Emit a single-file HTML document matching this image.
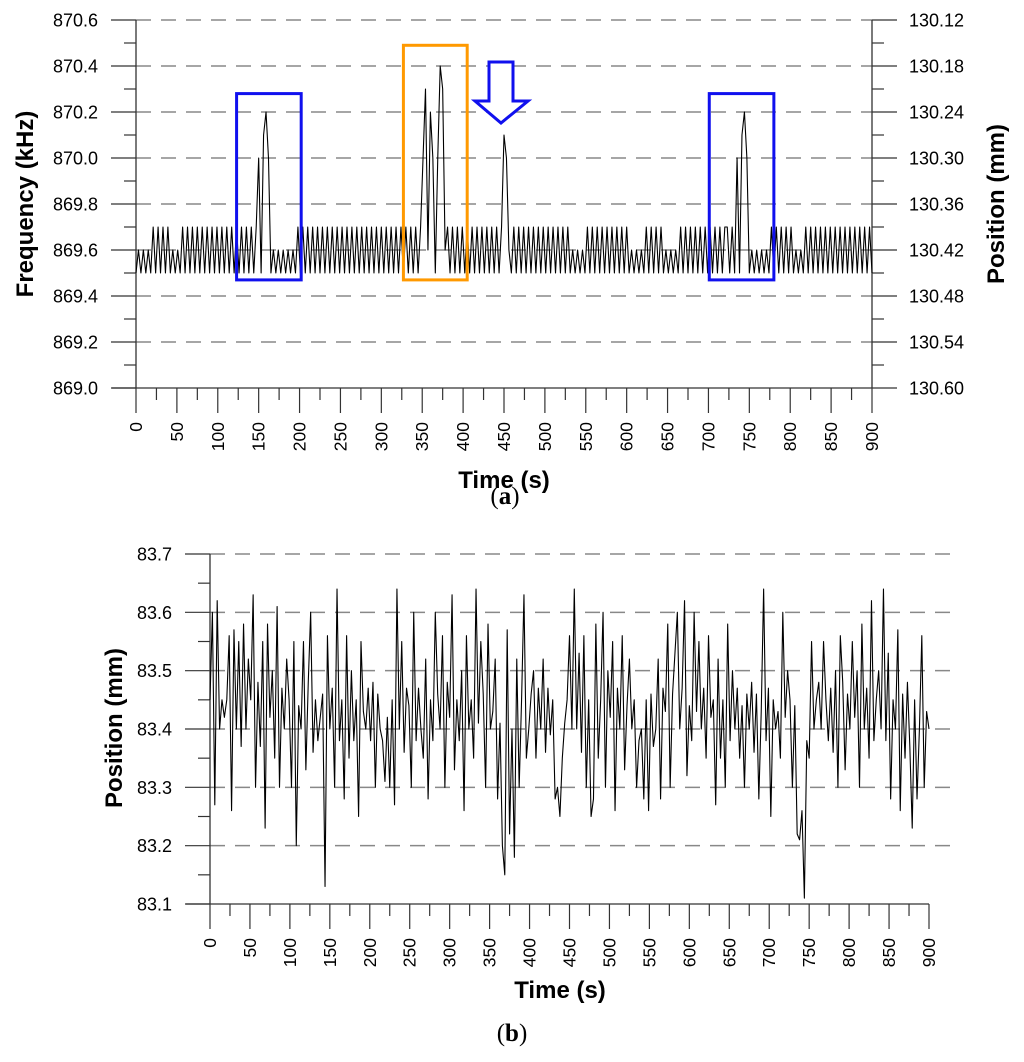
<!DOCTYPE html>
<html><head><meta charset="utf-8"><style>
body{margin:0;background:#fff;width:1024px;height:1062px;overflow:hidden}
svg{display:block}
text{font-family:"Liberation Sans",Arial,sans-serif;fill:#000}
</style></head><body>
<svg id="svg" width="1024" height="1062" xmlns="http://www.w3.org/2000/svg">
<g id="ca"></g>
<g id="cb"></g>
<text x="505" y="504" text-anchor="middle" style="font-family:'Liberation Serif',serif;font-size:25px">(<tspan font-weight="bold">a</tspan>)</text>
<text x="512" y="1041" text-anchor="middle" style="font-family:'Liberation Serif',serif;font-size:25px">(<tspan font-weight="bold">b</tspan>)</text>
</svg>
<script>
const timeStep = 3;
const freqValues = [
869.5,869.6,869.5,869.6,869.5,869.6,869.5,869.7,869.5,869.7,869.5,869.7,869.5,869.7,869.5,869.6,869.5,869.6,869.5,869.7,
869.5,869.7,869.5,869.7,869.5,869.7,869.5,869.7,869.5,869.7,869.5,869.7,869.5,869.7,869.5,869.7,869.5,869.7,869.5,869.7,
869.5,869.7,869.5,869.7,869.5,869.7,869.5,869.7,869.5,869.7,870.0,869.5,870.1,870.2,870.0,869.5,869.6,869.5,869.6,869.5,
869.6,869.5,869.6,869.5,869.6,869.5,869.7,869.5,869.7,869.5,869.7,869.5,869.7,869.5,869.7,869.5,869.7,869.5,869.7,869.5,
869.7,869.5,869.7,869.5,869.7,869.5,869.7,869.5,869.7,869.5,869.7,869.5,869.7,869.5,869.7,869.5,869.7,869.5,869.7,869.5,
869.7,869.5,869.7,869.5,869.7,869.5,869.7,869.5,869.7,869.5,869.7,869.5,869.7,869.5,869.7,869.5,869.7,870.0,870.3,869.6,
870.2,870.0,869.5,870.0,870.4,870.3,869.6,869.7,869.5,869.7,869.5,869.7,869.5,869.7,869.5,869.7,869.5,869.7,869.5,869.7,
869.5,869.7,869.5,869.7,869.5,869.7,869.5,869.7,869.5,869.7,870.1,870.0,869.6,869.5,869.7,869.5,869.7,869.5,869.7,869.5,
869.7,869.5,869.7,869.5,869.7,869.5,869.7,869.5,869.7,869.5,869.7,869.5,869.7,869.5,869.7,869.5,869.7,869.5,869.6,869.5,
869.6,869.5,869.6,869.5,869.7,869.5,869.7,869.5,869.7,869.5,869.7,869.5,869.7,869.5,869.7,869.5,869.7,869.5,869.7,869.5,
869.7,869.5,869.6,869.5,869.6,869.5,869.6,869.5,869.7,869.5,869.7,869.5,869.7,869.5,869.7,869.5,869.6,869.5,869.6,869.5,
869.6,869.5,869.7,869.5,869.7,869.5,869.7,869.5,869.7,869.5,869.7,869.5,869.7,869.5,869.7,869.5,869.7,869.5,869.7,869.5,
869.7,869.7,869.5,869.7,869.5,870.0,869.5,870.1,870.2,870.0,869.5,869.6,869.5,869.6,869.5,869.6,869.5,869.6,869.5,869.7,
869.5,869.7,869.5,869.7,869.5,869.7,869.5,869.7,869.5,869.6,869.5,869.6,869.5,869.7,869.5,869.7,869.5,869.7,869.5,869.7,
869.5,869.7,869.5,869.7,869.5,869.7,869.5,869.7,869.5,869.7,869.5,869.7,869.5,869.7,869.5,869.7,869.5,869.7,869.5,869.7,
869.5];
const posValues = [
83.45,83.60,83.27,83.62,83.40,83.45,83.42,83.45,83.56,83.26,83.57,83.40,83.55,83.37,83.58,83.40,83.52,83.45,83.63,83.30,
83.48,83.37,83.55,83.23,83.58,83.42,83.50,83.35,83.61,83.30,83.47,83.40,83.52,83.45,83.30,83.55,83.20,83.44,83.40,83.55,
83.33,83.48,83.60,83.36,83.45,83.38,83.42,83.46,83.13,83.56,83.40,83.47,83.30,83.64,83.38,83.45,83.28,83.56,83.35,83.50,
83.38,83.45,83.25,83.55,83.43,83.40,83.47,83.38,83.48,83.30,83.46,83.40,83.38,83.31,83.42,83.30,83.45,83.27,83.64,83.40,
83.55,83.36,83.47,83.44,83.30,83.60,83.38,83.47,83.40,83.35,83.52,83.28,83.45,83.38,83.60,83.46,83.40,83.56,83.30,83.48,
83.42,83.63,83.33,83.45,83.38,83.50,83.26,83.56,83.40,83.45,83.35,83.64,83.41,83.55,83.46,83.30,83.58,83.40,83.43,83.52,
83.28,83.41,83.20,83.15,83.57,83.22,83.40,83.18,83.52,83.30,83.45,83.63,83.35,83.40,83.46,83.50,83.35,83.47,83.40,83.52,
83.36,83.47,83.39,83.45,83.28,83.30,83.25,83.35,83.41,83.45,83.56,83.40,83.64,83.40,83.53,83.36,83.56,83.30,83.45,83.25,
83.28,83.58,83.35,83.45,83.60,83.30,83.50,83.42,83.55,83.26,83.47,83.40,83.56,83.33,83.44,83.52,83.40,83.45,83.30,83.38,
83.40,83.28,83.45,83.26,83.46,83.37,83.40,83.52,83.28,83.47,83.43,83.58,83.30,83.46,83.53,83.60,83.40,83.47,83.62,83.32,
83.44,83.38,83.60,83.43,83.55,83.40,83.47,83.35,83.56,83.42,83.45,83.27,83.52,83.35,83.45,83.30,83.58,83.38,83.50,83.40,
83.47,83.35,83.44,83.30,83.46,83.40,83.48,83.36,83.46,83.28,83.43,83.64,83.38,83.47,83.25,83.45,83.40,83.43,83.35,83.60,
83.42,83.50,83.45,83.30,83.44,83.22,83.21,83.26,83.11,83.38,83.35,83.55,83.40,83.45,83.48,83.40,83.55,83.45,83.38,83.47,
83.36,83.50,83.30,83.56,83.48,83.33,83.46,83.40,83.55,83.42,83.50,83.30,83.58,83.40,83.47,83.35,83.62,83.38,83.45,83.50,
83.40,83.64,83.38,83.53,83.28,83.45,83.40,83.57,83.26,83.46,83.35,83.48,83.37,83.23,83.45,83.28,83.40,83.56,83.30,83.43,
83.40];
const freqTicks = [869.0,869.2,869.4,869.6,869.8,870.0,870.2,870.4,870.6];
const posRightTicks = ["130.60","130.54","130.48","130.42","130.36","130.30","130.24","130.18","130.12"];
const posTicks = [83.1,83.2,83.3,83.4,83.5,83.6,83.7];
const timeTicks = [0,50,100,150,200,250,300,350,400,450,500,550,600,650,700,750,800,850,900];

const NS='http://www.w3.org/2000/svg';
function mk(parent,tag,attrs,txt){const e=document.createElementNS(NS,tag);for(const k in attrs)e.setAttribute(k,attrs[k]);if(txt!==undefined)e.textContent=txt;parent.appendChild(e);return e;}

function drawChart(g,o){
  const xs=t=>o.x0+(t-0)/900*(o.x1-o.x0);
  const ys=v=>o.yb+(v-o.vmin)/(o.vmax-o.vmin)*(o.yt-o.yb);
  o.grid.forEach(v=>{const l=mk(g,'line',{x1:o.x0,x2:o.x1+o.gridExt,y1:ys(v),y2:ys(v),stroke:'#888','stroke-width':1.5,'stroke-dasharray':'15 10'});
    
    });
  let a=mk(g,'line',{x1:o.x0,x2:o.x0,y1:o.yt,y2:o.yb,stroke:'#333','stroke-width':1.3});
  
  
  a=mk(g,'line',{x1:o.x0-24,x2:o.x1,y1:o.yb,y2:o.yb,stroke:'#333','stroke-width':1.3});
  
  
  if(o.right){a=mk(g,'line',{x1:o.x1,x2:o.x1,y1:o.yt,y2:o.yb,stroke:'#333','stroke-width':1.3});
    
    }
  for(let t=0;t<=900;t+=25){const maj=t%50===0;mk(g,'line',{x1:xs(t),x2:xs(t),y1:o.yb,y2:o.yb+(maj?25:12),stroke:'#333','stroke-width':1.2});}
  timeTicks.forEach(t=>{const tx=mk(g,'text',{x:0,y:0,transform:`translate(${xs(t)+6},${o.yb+34}) rotate(-90)`,'text-anchor':'end','font-size':'17.5px'},String(t));
    
    });
  const nMin=Math.round((o.vmax-o.vmin)/o.minor);
  for(let k=0;k<=nMin;k++){const v=o.vmin+k*o.minor;const maj=(k%o.majEvery===0);const L=maj?25:12;
    mk(g,'line',{x1:o.x0-L,x2:o.x0,y1:ys(v),y2:ys(v),stroke:'#333','stroke-width':1.2});
    if(o.right)mk(g,'line',{x1:o.x1,x2:o.x1+L,y1:ys(v),y2:ys(v),stroke:'#333','stroke-width':1.2});}
  o.ticks.forEach((v,i)=>{const tx=mk(g,'text',{x:o.x0-38,y:ys(v)+6.5,'text-anchor':'end','font-size':'18px'},v.toFixed(1));
    
    
    if(o.right){const r=mk(g,'text',{x:o.x1+37,y:ys(v)+6.5,'font-size':'18px'},posRightTicks[i]);
      
      }});
  const d=o.data.map((v,i)=>(i?'L':'M')+xs(i*timeStep).toFixed(2)+','+ys(v).toFixed(2)).join('');
  const p=mk(g,'path',{d:d,fill:'none',stroke:'#000','stroke-width':1.1,'stroke-linejoin':'round'});
  
  
  return {xs,ys};
}

const ga=document.getElementById('ca');
const A=drawChart(ga,{x0:136,x1:872,yt:20,yb:388,vmin:869.0,vmax:870.6,minor:0.1,majEvery:2,gridExt:0,grid:[869.2,869.4,869.6,869.8,870.0,870.2,870.4,870.6],ticks:freqTicks,data:freqValues,right:true,seriesName:'frequency-line'});
let t;
t=mk(ga,'text',{x:0,y:0,transform:'translate(33,204) rotate(-90)','text-anchor':'middle','font-size':'24px','font-weight':'bold'},'Frequency (kHz)');


t=mk(ga,'text',{x:0,y:0,transform:'translate(1004,204) rotate(-90)','text-anchor':'middle','font-size':'24px','font-weight':'bold'},'Position (mm)');


t=mk(ga,'text',{x:504,y:488,'text-anchor':'middle','font-size':'24px','font-weight':'bold'},'Time (s)');


const boxes=[[123,202,869.47,870.28,'#1010ee','highlight-box-1'],[327,405,869.47,870.49,'#ff9900','highlight-box-2'],[701,780,869.47,870.28,'#1010ee','highlight-box-3']];
boxes.forEach(b=>{const r=mk(ga,'rect',{x:A.xs(b[0]),y:A.ys(b[3]),width:A.xs(b[1])-A.xs(b[0]),height:A.ys(b[2])-A.ys(b[3]),fill:'none',stroke:b[4],'stroke-width':3});
  
  });
const ar=mk(ga,'path',{d:'M489,62 L513,62 L513,101 L528,101 L501,123 L475,101 L489,101 Z',fill:'#fff',stroke:'#1010ee','stroke-width':3});



const gb=document.getElementById('cb');
drawChart(gb,{x0:210,x1:929,yt:554,yb:904,vmin:83.1,vmax:83.7,minor:0.05,majEvery:2,gridExt:25,grid:[83.2,83.3,83.4,83.5,83.6,83.7],ticks:posTicks,data:posValues,right:false,seriesName:'position-line'});
t=mk(gb,'text',{x:0,y:0,transform:'translate(122,728) rotate(-90)','text-anchor':'middle','font-size':'24px','font-weight':'bold'},'Position (mm)');


t=mk(gb,'text',{x:560,y:998,'text-anchor':'middle','font-size':'24px','font-weight':'bold'},'Time (s)');


</script>
</body></html>
